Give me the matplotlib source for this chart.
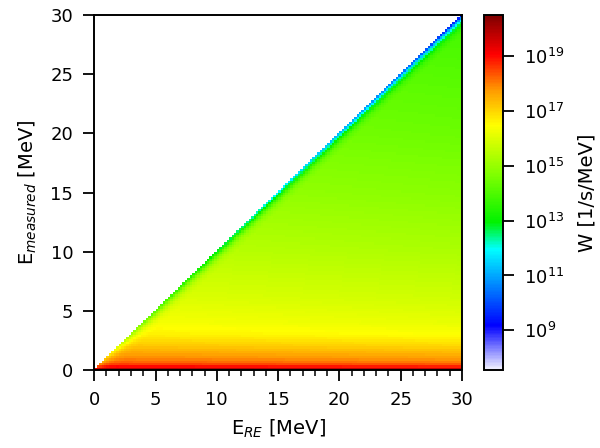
import numpy as np
import matplotlib
matplotlib.use("Agg")
import matplotlib.pyplot as plt
from matplotlib.colors import LinearSegmentedColormap, LogNorm
from matplotlib.ticker import MultipleLocator, NullLocator

# energy grid (MeV), 0.2 MeV bins
e_edges = np.arange(0, 30.0001, 0.2)

# log10 W far from the diagonal, read along E_measured
em_nodes = [0.1, 0.3, 0.5, 0.7, 1.0, 1.5, 2.0, 3.0, 4.0, 6.0, 8.0, 10.0, 15.0, 20.0, 25.0, 30.0]
logw_profile = [19.7, 18.8, 18.3, 18.0, 17.7, 17.35, 17.0, 16.45, 16.15, 15.8, 15.55, 15.3, 14.8, 14.4, 14.1, 13.8]

# slight tilt with E_RE
ere_nodes = [0.0, 30.0]
logw_tilt = [0.25, 0.0]

# drop near the diagonal: depth vs E_measured, shape vs distance
drop_em = [0.0, 2.0, 5.0, 10.0, 15.0, 20.0, 25.0, 30.0]
drop_depth = [0.5, 1.2, 2.0, 2.6, 3.0, 3.3, 3.6, 4.3]
dist_nodes = [0.0, 0.2, 0.4, 0.7, 1.0, 1.5]
dist_shape = [1.0, 0.7, 0.45, 0.2, 0.08, 0.0]

ctr = 0.5 * (e_edges[:-1] + e_edges[1:])
ERE, EM = np.meshgrid(ctr, ctr)
L = (np.interp(EM, em_nodes, logw_profile) + np.interp(ERE, ere_nodes, logw_tilt)
     - np.interp(EM, drop_em, drop_depth) * np.interp(ERE - EM, dist_nodes, dist_shape))
W = np.ma.masked_where(EM > ERE + 1e-9, 10.0 ** L)

cmap = LinearSegmentedColormap.from_list("w_map", [
    (0.0, (0.95, 0.95, 1.0)),
    (0.124, (0.0, 0.0, 1.0)),
    (0.34, (0.0, 1.0, 1.0)),
    (0.416, (0.0, 0.95, 0.0)),
    (0.55, (0.5, 1.0, 0.0)),
    (0.69, (1.0, 1.0, 0.0)),
    (0.79, (1.0, 0.6, 0.0)),
    (0.89, (1.0, 0.0, 0.0)),
    (1.0, (0.5, 0.0, 0.0)),
])

fig = plt.figure(figsize=(6, 4.48), dpi=100)
ax = fig.add_axes([0.157, 0.174, 0.613, 0.7925])
cax = fig.add_axes([0.807, 0.174, 0.031, 0.7925])

pc = ax.pcolormesh(e_edges, e_edges, W, cmap=cmap,
                   norm=LogNorm(vmin=10**7.55, vmax=10**20.5))
ax.set_xlim(0, 30)
ax.set_ylim(0, 30)
ax.xaxis.set_major_locator(MultipleLocator(5))
ax.xaxis.set_minor_locator(MultipleLocator(1))
ax.yaxis.set_major_locator(MultipleLocator(5))
ax.tick_params(labelsize=13, length=8, width=1.3, pad=7)
ax.tick_params(which="minor", length=4, width=1.1)
for s in ax.spines.values():
    s.set_linewidth(1.4)
ax.set_xlabel("E$_{RE}$ [MeV]", fontsize=14, labelpad=6)
ax.set_ylabel("E$_{measured}$ [MeV]", fontsize=14, labelpad=8)

cb = fig.colorbar(pc, cax=cax)
cb.set_ticks([1e9, 1e11, 1e13, 1e15, 1e17, 1e19])
cb.ax.yaxis.set_minor_locator(NullLocator())
cb.ax.tick_params(labelsize=13, length=8, width=1.3, pad=7)
cb.outline.set_linewidth(1.4)
cb.set_label("W [1/s/MeV]", fontsize=14, labelpad=10)

fig.savefig("out.png", dpi=100)
